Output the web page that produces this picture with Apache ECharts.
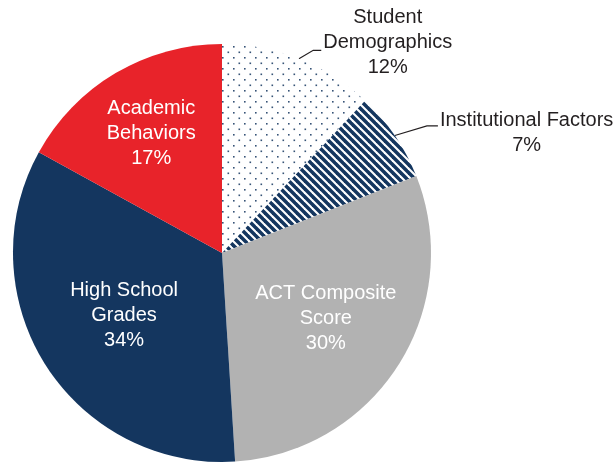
<!DOCTYPE html>
<html>
<head>
<meta charset="utf-8">
<script src="https://cdn.jsdelivr.net/npm/echarts@6/dist/echarts.min.js"></script>
<style>
  html, body { margin: 0; padding: 0; background: #ffffff; }
  #chart { width: 615px; height: 463px; }
</style>
</head>
<body>
<div id="chart"></div>
<script>
// Factor names (line breaks are part of the drawn label) and their shares in percent
const categories = [
  'Student\nDemographics',
  'Institutional Factors',
  'ACT Composite\nScore',
  'High School\nGrades',
  'Academic\nBehaviors'
];
const shares = [12, 7, 30, 34, 17];

// Presentation settings per slice
const fills = ['dots', 'stripes', '#b2b2b2', '#14365f', '#e8232a'];
const labelPlace = ['outside', 'outside', 'inside', 'inside', 'inside'];
const lineLength = [9, 17, 0, 0, 0];
const lineLength2 = [19, 29, 0, 0, 0];
const bendRun = [8, 11, 0, 0, 0];
const outsideShift = [-7.5, 7.5, 0, 0, 0];
const insideRadius = [0, 0, 123, 116, 139];

const NAVY = '#14365f';
const pieCenter = [222, 253];
const pieRadius = 209;

function dotTile() {
  const c = document.createElement('canvas');
  c.width = 11; c.height = 11;
  const g = c.getContext('2d');
  g.fillStyle = '#ffffff';
  g.fillRect(0, 0, 11, 11);
  g.fillStyle = 'rgba(20,54,95,0.85)';
  g.fillRect(2, 2, 1.6, 1.6);
  g.fillRect(7.5, 7.5, 1.6, 1.6);
  return c;
}

function stripeTile() {
  const s = 8;
  const c = document.createElement('canvas');
  c.width = s; c.height = s;
  const g = c.getContext('2d');
  g.fillStyle = NAVY;
  g.fillRect(0, 0, s, s);
  g.strokeStyle = '#ffffff';
  g.lineWidth = 2.1;
  for (let k = -1; k <= 1; k++) {
    g.beginPath();
    g.moveTo(k * s - 1, -1);
    g.lineTo(k * s + s + 1, s + 1);
    g.stroke();
  }
  return c;
}

function fillFor(f) {
  if (f === 'dots') return { image: dotTile(), repeat: 'repeat' };
  if (f === 'stripes') return { image: stripeTile(), repeat: 'repeat' };
  return f;
}

const pieData = categories.map(function (name, i) {
  const outside = labelPlace[i] === 'outside';
  return {
    name: name,
    value: shares[i],
    itemStyle: { color: fillFor(fills[i]) },
    label: {
      position: outside ? 'outside' : 'inside',
      color: outside ? '#231f20' : '#ffffff'
    },
    labelLine: {
      show: outside,
      length: lineLength[i],
      length2: lineLength2[i]
    }
  };
});

const chart = echarts.init(document.getElementById('chart'), null, { renderer: 'canvas' });

chart.setOption({
  animation: false,
  series: [{
    type: 'pie',
    center: pieCenter,
    radius: pieRadius,
    startAngle: 90,
    clockwise: true,
    avoidLabelOverlap: false,
    emphasis: { disabled: true },
    itemStyle: { borderWidth: 0 },
    label: {
      show: true,
      formatter: '{b}\n{c}%',
      fontFamily: '"Liberation Sans", Arial, Helvetica, sans-serif',
      fontSize: 20,
      lineHeight: 25,
      distanceToLabelLine: 2
    },
    labelLine: {
      show: true,
      smooth: false,
      lineStyle: { color: '#231f20', width: 1.2 }
    },
    labelLayout: function (p) {
      const i = p.dataIndex;
      const r = p.labelRect;
      if (labelPlace[i] === 'outside') {
        const pts = p.labelLinePoints;
        const end = pts[pts.length - 1];
        const bend = [end[0] - bendRun[i], end[1]];
        return {
          align: 'center',
          dx: r.width / 2,
          dy: outsideShift[i],
          labelLinePoints: [pts[0], bend, end]
        };
      }
      const mx = r.x + r.width / 2 - pieCenter[0];
      const my = r.y + r.height / 2 - pieCenter[1];
      const d = Math.hypot(mx, my);
      const k = insideRadius[i] / d - 1;
      return { dx: mx * k, dy: my * k };
    },
    data: pieData
  }]
});
</script>
</body>
</html>
